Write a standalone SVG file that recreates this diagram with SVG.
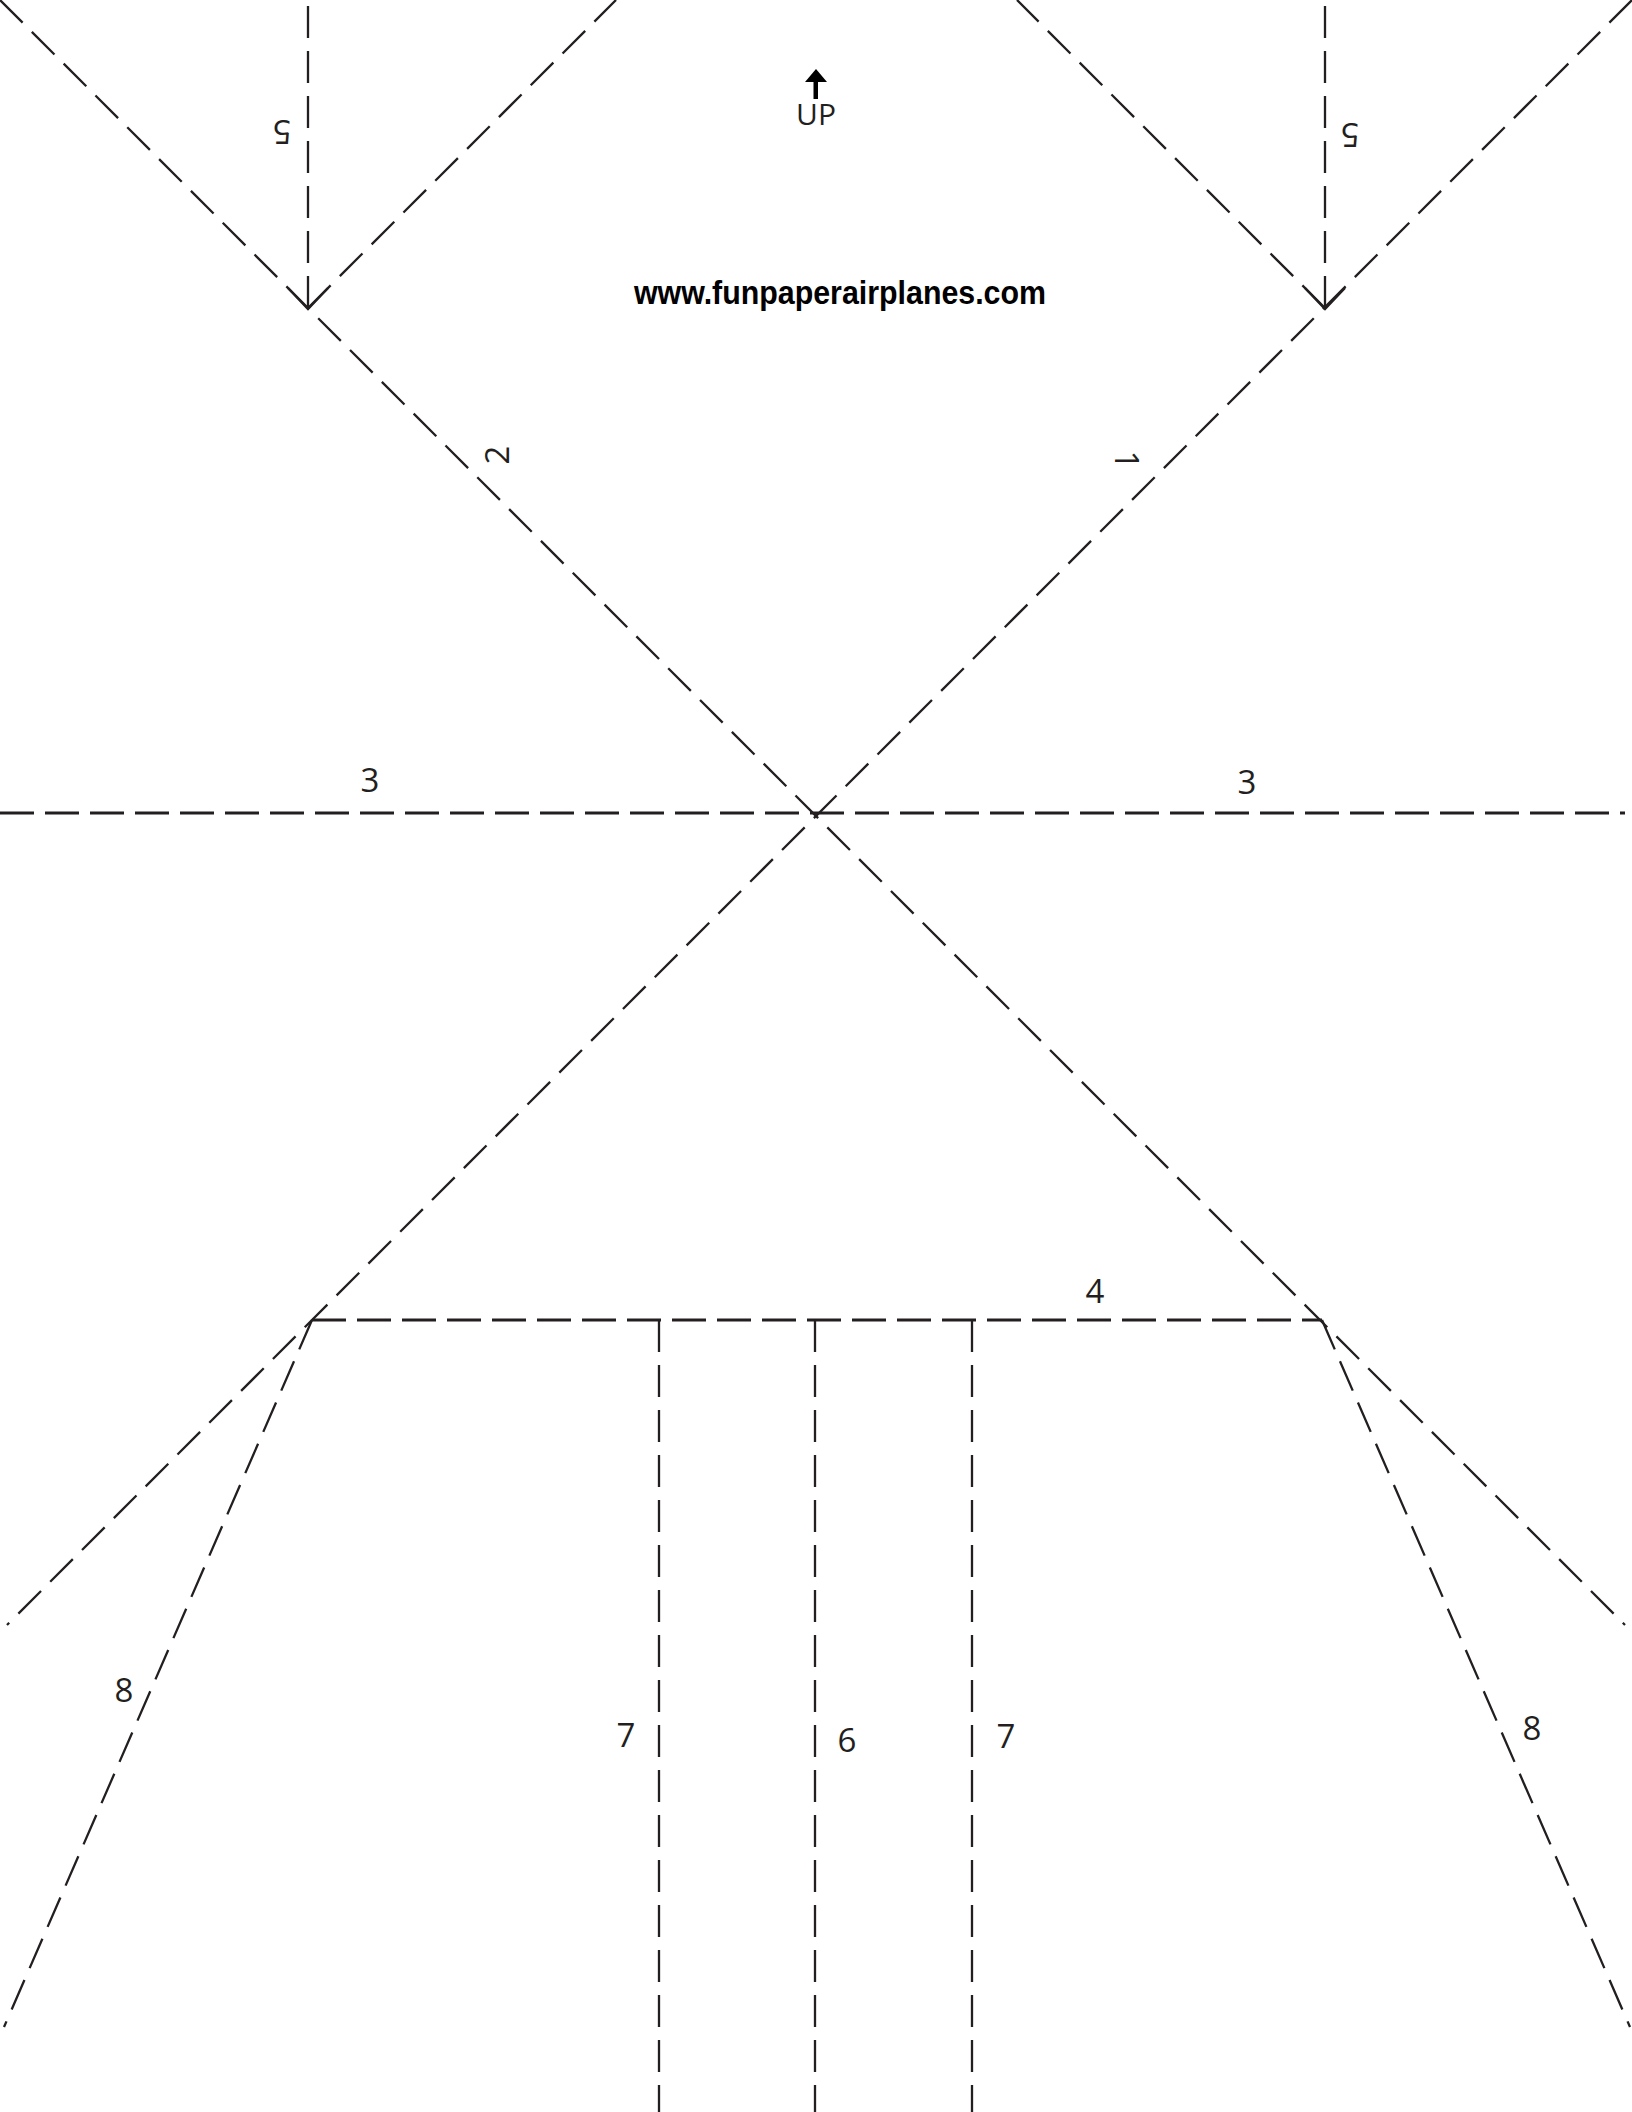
<svg xmlns="http://www.w3.org/2000/svg" width="1632" height="2112" viewBox="0 0 1632 2112">
<style>
.fold{fill:none;stroke:#231f20;stroke-width:2.3;stroke-dasharray:32 13}
.thick{stroke-width:3;stroke-dasharray:34 11}
.solid{fill:none;stroke:#231f20;stroke-width:2.3}
.lbl{font-family:"Open Sans","Noto Sans",sans-serif;font-size:33px;fill:#231f20;text-anchor:middle}
.url{font-family:"Liberation Sans",Arial,sans-serif;font-weight:bold;font-size:34px;fill:#000}
</style>
<rect width="1632" height="2112" fill="#fff"/>
<g id="connectors">
<line class="fold" x1="0" y1="0" x2="1625" y2="1625"/>
<line class="fold" x1="1632" y1="0" x2="7" y2="1625"/>
<line class="fold" x1="308" y1="308" x2="616" y2="0"/>
<line class="fold" x1="1325" y1="308" x2="1017" y2="0"/>
<line class="fold" x1="308" y1="6" x2="308" y2="308"/>
<polyline class="solid" points="288,288 308,309 328,288"/>
<line class="fold" x1="1325" y1="6" x2="1325" y2="308"/>
<polyline class="solid" points="1305,288 1325,309 1345,288"/>
<line class="fold thick" x1="0" y1="813" x2="1625" y2="813"/>
<line class="fold thick" x1="312" y1="1320" x2="1322" y2="1320"/>
<line class="fold" x1="659" y1="1320" x2="659" y2="2112"/>
<line class="fold" x1="815" y1="1320" x2="815" y2="2112"/>
<line class="fold" x1="972" y1="1320" x2="972" y2="2112"/>
<line class="fold" x1="312" y1="1320" x2="4" y2="2027"/>
<line class="fold" x1="1322" y1="1320" x2="1630" y2="2027"/>
</g>
<g id="up">
<polygon points="805,82 816,69 827,82" fill="#000"/>
<rect x="813.5" y="80" width="4.5" height="19" fill="#000"/>
<text class="lbl" x="816" y="125" style="font-size:30px">UP</text>
</g>
<g id="url">
<text class="url" x="634" y="304" textLength="412" lengthAdjust="spacingAndGlyphs">www.funpaperairplanes.com</text>
</g>
<g id="labels">
<text class="lbl" transform="translate(282,132) rotate(180)" y="12">5</text>
<text class="lbl" transform="translate(1350,135) rotate(180)" y="12">5</text>
<text class="lbl" transform="translate(497,455) rotate(-90)" y="12">2</text>
<text class="lbl" transform="translate(1127,460) rotate(90)" y="12">1</text>
<text class="lbl" x="370" y="792">3</text>
<text class="lbl" x="1247" y="794">3</text>
<text class="lbl" x="1095" y="1303">4</text>
<text class="lbl" x="626" y="1747">7</text>
<text class="lbl" x="847" y="1752">6</text>
<text class="lbl" x="1006" y="1748">7</text>
<text class="lbl" x="124" y="1702">8</text>
<text class="lbl" x="1532" y="1740">8</text>
</g>
</svg>
